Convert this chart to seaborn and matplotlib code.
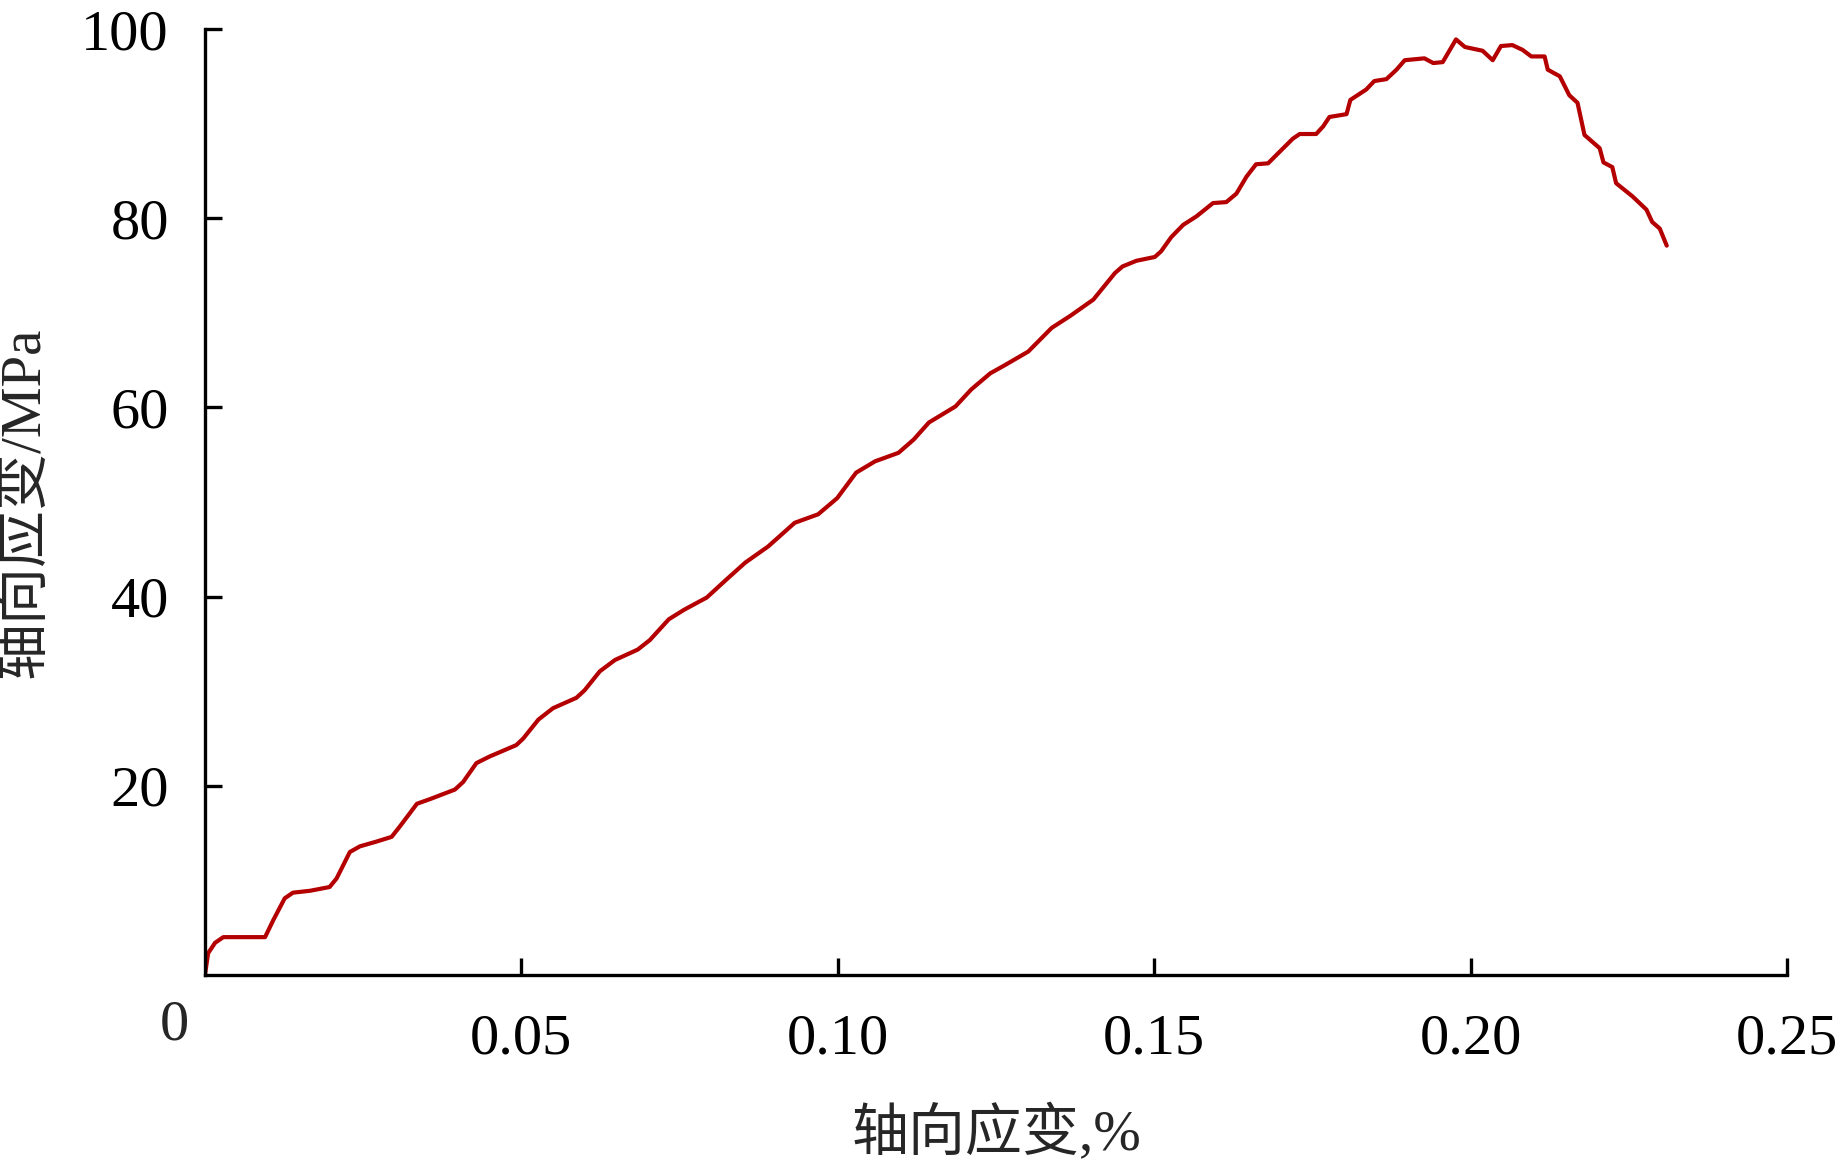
import matplotlib
matplotlib.use("Agg")
import matplotlib.pyplot as plt
import pandas as pd
import seaborn as sns

# axial strain (%) and stress (MPa)
strain = [
    0.0, 0.0005, 0.0016, 0.0029, 0.0095, 0.0108, 0.0126, 0.0139, 0.0166, 0.0197,
    0.0208, 0.0229, 0.0245, 0.0271, 0.0295, 0.0308, 0.0335, 0.0356, 0.0395, 0.0408,
    0.0429, 0.0450, 0.0492, 0.0503, 0.0527, 0.0550, 0.0587, 0.0600, 0.0624, 0.0648,
    0.0684, 0.0703, 0.0733, 0.0757, 0.0793, 0.0824, 0.0854, 0.0890, 0.0932, 0.0969,
    0.0999, 0.1029, 0.1059, 0.1096, 0.1120, 0.1144, 0.1186, 0.1211, 0.1241, 0.1265,
    0.1301, 0.1338, 0.1368, 0.1404, 0.1438, 0.1450, 0.1472, 0.1501, 0.1511, 0.1527,
    0.1546, 0.1567, 0.1593, 0.1614, 0.1630, 0.1646, 0.1661, 0.1680, 0.1698, 0.1719,
    0.1730, 0.1756, 0.1767, 0.1777, 0.1804, 0.1810, 0.1835, 0.1848, 0.1867, 0.1883,
    0.1896, 0.1927, 0.1941, 0.1956, 0.1977, 0.1991, 0.2019, 0.2035, 0.2048, 0.2066,
    0.2082, 0.2096, 0.2117, 0.2122, 0.2141, 0.2156, 0.2169, 0.2180, 0.2204, 0.2210,
    0.2224, 0.2230, 0.2256, 0.2278, 0.2287, 0.2299, 0.2310,
]
stress = [
    0.0, 2.3, 3.4, 4.0, 4.0, 5.8, 8.1, 8.7, 8.9, 9.3,
    10.2, 13.0, 13.6, 14.1, 14.6, 15.7, 18.1, 18.6, 19.6, 20.4,
    22.4, 23.1, 24.3, 25.0, 27.0, 28.2, 29.3, 30.1, 32.1, 33.3,
    34.4, 35.4, 37.6, 38.6, 39.9, 41.8, 43.6, 45.3, 47.8, 48.7,
    50.4, 53.1, 54.3, 55.2, 56.6, 58.4, 60.1, 61.9, 63.6, 64.5,
    65.9, 68.4, 69.7, 71.4, 74.2, 74.9, 75.5, 75.9, 76.5, 78.0,
    79.3, 80.2, 81.6, 81.7, 82.6, 84.4, 85.7, 85.8, 87.0, 88.4,
    88.9, 88.9, 89.7, 90.7, 91.0, 92.5, 93.6, 94.5, 94.7, 95.7,
    96.7, 96.9, 96.4, 96.5, 98.9, 98.1, 97.7, 96.7, 98.2, 98.3,
    97.8, 97.1, 97.1, 95.7, 95.0, 93.0, 92.2, 88.8, 87.4, 85.9,
    85.4, 83.7, 82.3, 80.9, 79.6, 78.9, 77.1,
]

x_ticks = [0.05, 0.10, 0.15, 0.20, 0.25]
x_tick_labels = ["0.05", "0.10", "0.15", "0.20", "0.25"]
y_ticks = [20, 40, 60, 80, 100]

sns.set_theme(style="ticks")
plt.rcParams["font.family"] = ["Liberation Serif", "Noto Sans CJK SC"]
plt.rcParams["axes.unicode_minus"] = False

df = pd.DataFrame({"strain": strain, "stress": stress})

fig = plt.figure(figsize=(18.43, 11.60), dpi=100)
ax = fig.add_axes([0.1112, 0.1595, 0.8584, 0.8155])

line = sns.lineplot(data=df, x="strain", y="stress", sort=False, estimator=None,
                    color="#B40000", linewidth=3.0, ax=ax)
for ln in ax.get_lines():
    ln.set_solid_joinstyle("round")
    ln.set_solid_capstyle("round")

ax.set_xlim(0, 0.25)
ax.set_ylim(0, 100)
ax.set_xticks(x_ticks)
ax.set_xticklabels(x_tick_labels)
ax.set_yticks(y_ticks)

for side in ["top", "right"]:
    ax.spines[side].set_visible(False)
for side in ["left", "bottom"]:
    ax.spines[side].set_linewidth(2.4)
    ax.spines[side].set_color("black")

ax.tick_params(axis="both", direction="in", length=12, width=2.4,
               labelsize=42, colors="black")
ax.tick_params(axis="x", pad=28)
ax.tick_params(axis="y", pad=26)

# lone origin label sitting below-left of the corner
ax.text(-0.0049, -5.3, "0", fontsize=42, ha="center", va="center",
        clip_on=False)

ax.set_xlabel("轴向应变,%", fontsize=41, labelpad=28)
ax.set_ylabel("轴向应变/MPa", fontsize=41, labelpad=22)
ax.grid(False)

fig.savefig("out.png", dpi=100, facecolor="white")
